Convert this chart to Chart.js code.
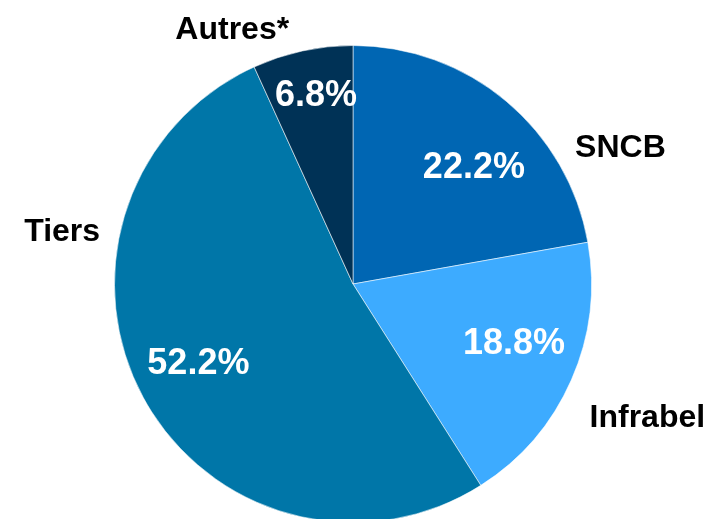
<!DOCTYPE html>
<html>
<head>
<meta charset="utf-8">
<script src="https://cdn.jsdelivr.net/npm/chart.js@4"></script>
<style>
  html, body { margin: 0; padding: 0; background: #fff; overflow: hidden; }
  #wrap { width: 710px; height: 560px; }
</style>
</head>
<body>
<div id="wrap"><canvas id="mycanvas" width="710" height="560"></canvas></div>
<script>
// data
var labels = ["SNCB", "Infrabel", "Tiers", "Autres*"];
var shares = [22.2, 18.8, 52.2, 6.8];
var colors = ["#0066B3", "#3DABFF", "#0076A8", "#003256"];

// label placement: [angle from 12 o'clock in degrees, distance as share of radius]
var innerPos = [[45.4, 0.712], [109.4, 0.716], [243.4, 0.725], [349.0, 0.814]];
var outerPos = [[62.6, 1.263], [114.0, 1.351], [280.7, 1.241], [334.8, 1.189]];

var pieLabels = {
	id: 'pieLabels',
	afterDatasetsDraw: function(chart) {
		var ctx = chart.ctx;
		var arcs = chart.getDatasetMeta(0).data;
		ctx.save();
		ctx.textAlign = 'center';
		ctx.textBaseline = 'alphabetic';
		for (var i = 0; i < arcs.length; i++) {
			var a = arcs[i];
			var r = a.outerRadius;
			var p = innerPos[i];
			var rad = p[0] * Math.PI / 180;
			ctx.fillStyle = '#fff';
			ctx.font = 'bold 36px "Liberation Sans", Arial, sans-serif';
			ctx.fillText(shares[i].toFixed(1) + '%', a.x + Math.sin(rad) * r * p[1], a.y - Math.cos(rad) * r * p[1] + 36 * 0.358);
			p = outerPos[i];
			rad = p[0] * Math.PI / 180;
			ctx.fillStyle = '#000';
			ctx.font = 'bold 32px "Liberation Sans", Arial, sans-serif';
			ctx.fillText(labels[i], a.x + Math.sin(rad) * r * p[1], a.y - Math.cos(rad) * r * p[1] + 32 * 0.358);
		}
		ctx.restore();
	}
};

var chart = new Chart(document.getElementById('mycanvas'), {
	type: 'pie',
	data: {
		labels: labels,
		datasets: [{
			data: shares,
			backgroundColor: colors,
			borderColor: 'rgba(255,255,255,0.55)',
			borderWidth: 1
		}]
	},
	options: {
		responsive: false,
		animation: false,
		devicePixelRatio: 1,
		layout: { padding: { top: 45, bottom: 37, left: 114, right: 118 } },
		plugins: {
			legend: { display: false },
			tooltip: { enabled: false }
		}
	},
	plugins: [pieLabels]
});
</script>
</body>
</html>
